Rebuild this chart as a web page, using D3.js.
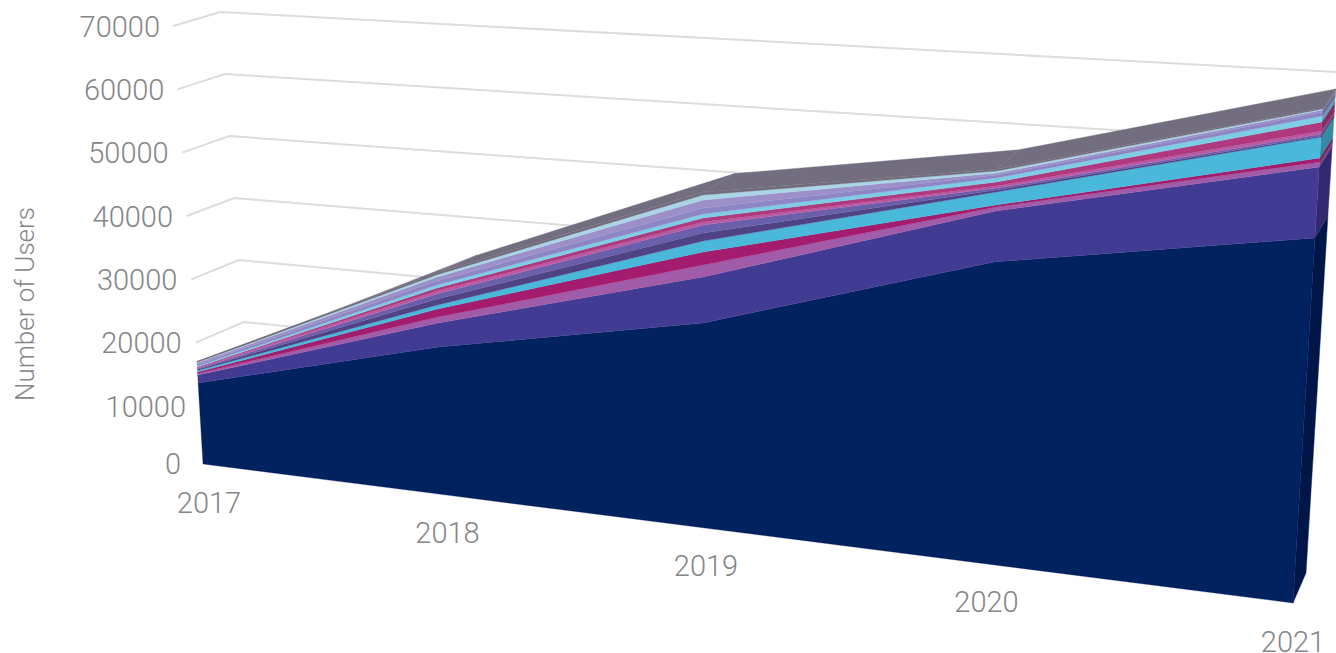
<!DOCTYPE html>
<html>
<head>
<meta charset="utf-8">
<script src="https://d3js.org/d3.v7.min.js"></script>
<style>
	html, body { margin: 0; padding: 0; background: #fff; overflow: hidden; }
	text { font-family: Roboto, sans-serif; font-weight: 300; fill: #848689; }
</style>
</head>
<body>
<script>
	var years = [2017, 2018, 2019, 2020, 2021];
	var yTicks = [0, 10000, 20000, 30000, 40000, 50000, 60000, 70000];

	//values, bottom layer first
	var layerNames = ['a', 'b', 'c', 'd', 'e', 'f', 'g', 'h', 'i', 'j', 'k', 'l', 'm', 'n'];
	var a = [12980, 22650, 30150, 42700, 49730];
	var b = [1280, 3680, 6770, 7220, 9670];
	var c = [240, 920, 1770, 570, 680];
	var d = [240, 1230, 1910, 280, 540];
	var e = [240, 610, 1620, 1840, 2860];
	var f = [160, 920, 1180, 280, 140];
	var g = [160, 770, 1180, 280, 270];
	var h = [160, 460, 440, 280, 410];
	var i = [80, 460, 590, 570, 1230];
	var j = [160, 460, 590, 570, 820];
	var k = [240, 610, 880, 420, 540];
	var l = [240, 610, 1180, 280, 270];
	var m = [80, 310, 740, 280, 140];
	var n = [160, 310, 440, 280, 140];
	var layerValues = [a, b, c, d, e, f, g, h, i, j, k, l, m, n];

	var layerColors = ['#00205f', '#433b94', '#a05ca8', '#a41c6e', '#4ab8da', '#4f4285', '#6a5eab',
		'#b85ca4', '#b0397f', '#7ecde6', '#8d86c4', '#9d90c8', '#a9d5e6', '#726d7e'];
	var roofColor = '#736e7f';

	var rows = years.map(function(yr, idx) {
		var row = { year: yr };
		layerNames.forEach(function(name, s) { row[name] = layerValues[s][idx]; });
		return row;
	});
	var stacked = d3.stack().keys(layerNames)(rows);
	var topLayer = stacked[stacked.length - 1];

	//the fake 3d: each of these scales says how a year sits in the perspective
	var xBase = d3.scaleLinear().domain(years).range([203, 443, 703, 985, 1293]);
	var yBase = d3.scaleLinear().domain([203, 1293]).range([464, 603]);
	var pxPerUser = d3.scaleLinear().domain([2017, 2021]).range([0.00624, 0.00734]);
	var lean = d3.scaleLinear().domain([2017, 2021]).range([-0.06, 0.06]);
	var depthX = d3.scaleLinear().domain([2017, 2021]).range([50, 13]);
	var depthY = d3.scaleLinear().domain([2017, 2021]).range([-18, -30]);
	var depthShrink = d3.scaleLinear().domain([2017, 2021]).range([0.011, 0.022]);

	function frontX(yr, v) { return xBase(yr) + lean(yr) * v * pxPerUser(yr); }
	function frontY(yr, v) { return yBase(xBase(yr)) - v * pxPerUser(yr); }
	function backPt(yr, v) {
		var px = v * pxPerUser(yr);
		return [frontX(yr, v) + depthX(yr), frontY(yr, v) + depthY(yr) + depthShrink(yr) * px];
	}

	//wall scales for the grid lines
	var tickY = d3.scaleLinear().domain([0, 10000, 70000]).range([462, 405, 25]);
	var tickRight = d3.scaleLinear().domain([0, 10000, 70000]).range([181, 186, 160]);
	var stubX = d3.scaleLinear().domain([0, 70000]).range([205, 173]);
	var wallLeftX = d3.scaleLinear().domain([0, 70000]).range([253, 220]);
	var wallLeftY = d3.scaleLinear().domain([0, 70000]).range([446, 12]);
	var wallRightY = d3.scaleLinear().domain([0, 70000]).range([576, 72]);

	var svg = d3.select('body').append('svg')
		.attr('width', 1336)
		.attr('height', 653);

	svg.append('defs').append('filter')
		.attr('id', 'soft')
		.append('feGaussianBlur')
		.attr('stdDeviation', 0.5);

	var gridLine = d3.line();
	svg.append('g').selectAll('path')
		.data(yTicks)
		.enter().append('path')
		.attr('d', function(v) {
			//only the top line gets past the block, the others stop behind it
			var endX = v === 70000 ? 1336 : 1250;
			var along = (endX - wallLeftX(v)) / (1336 - wallLeftX(v));
			var endY = d3.interpolateNumber(wallLeftY(v), wallRightY(v))(along);
			return gridLine([[stubX(v), tickY(v) + 1], [wallLeftX(v), wallLeftY(v)], [endX, endY]]);
		})
		.style('fill', 'none')
		.style('stroke', '#dcdcdc')
		.style('stroke-width', 2)
		.attr('filter', 'url(#soft)');

	var solid = svg.append('g').attr('filter', 'url(#soft)');

	//right hand end of the block
	solid.append('g').selectAll('path')
		.data(stacked)
		.enter().append('path')
		.attr('d', function(layer) {
			var last = layer[layer.length - 1];
			var yr = last.data.year;
			return gridLine([[frontX(yr, last[0]), frontY(yr, last[0])], [frontX(yr, last[1]), frontY(yr, last[1])],
				backPt(yr, last[1]), backPt(yr, last[0])]) + 'Z';
		})
		.style('fill', function(layer, s) { return d3.color(layerColors[s]).darker(0.8); })
		.style('stroke', function(layer, s) { return d3.color(layerColors[s]).darker(0.8); })
		.style('stroke-width', 0.4);

	//roof, one piece per year gap
	solid.append('g').selectAll('path')
		.data(d3.pairs(topLayer))
		.enter().append('path')
		.attr('d', function(p) {
			var y0 = p[0].data.year, y1 = p[1].data.year;
			return gridLine([[frontX(y0, p[0][1]), frontY(y0, p[0][1])], [frontX(y1, p[1][1]), frontY(y1, p[1][1])],
				backPt(y1, p[1][1]), backPt(y0, p[0][1])]) + 'Z';
		})
		.style('fill', roofColor)
		.style('stroke', roofColor)
		.style('stroke-width', 0.4);

	//front face
	var frontArea = d3.area()
		.x0(function(pt) { return frontX(pt.data.year, pt[0]); })
		.y0(function(pt) { return frontY(pt.data.year, pt[0]); })
		.x1(function(pt) { return frontX(pt.data.year, pt[1]); })
		.y1(function(pt) { return frontY(pt.data.year, pt[1]); });

	solid.append('g').selectAll('path')
		.data(stacked)
		.enter().append('path')
		.attr('d', frontArea)
		.style('fill', function(layer, s) { return layerColors[s]; })
		.style('stroke', function(layer, s) { return layerColors[s]; })
		.style('stroke-width', 0.3);

	//labels
	svg.append('g').selectAll('text')
		.data(yTicks)
		.enter().append('text')
		.attr('x', function(v) { return tickRight(v); })
		.attr('y', function(v) { return tickY(v); })
		.attr('dy', '0.4em')
		.attr('text-anchor', 'end')
		.style('font-size', '29px')
		.text(function(v) { return v; });

	var yearOffset = d3.scaleLinear().domain([2017, 2021]).range([6, 0]);
	svg.append('g').selectAll('text')
		.data(years)
		.enter().append('text')
		.attr('x', function(yr) { return xBase(yr) + yearOffset(yr); })
		.attr('y', function(yr) { return yBase(xBase(yr)) + 37; })
		.attr('dy', '0.4em')
		.attr('text-anchor', 'middle')
		.style('font-size', '29px')
		.text(function(yr) { return yr; });

	svg.append('text')
		.attr('transform', 'translate(25,304) rotate(-90)')
		.attr('dy', '0.36em')
		.attr('text-anchor', 'middle')
		.style('font-size', '26px')
		.text('Number of Users');
</script>
</body>
</html>
